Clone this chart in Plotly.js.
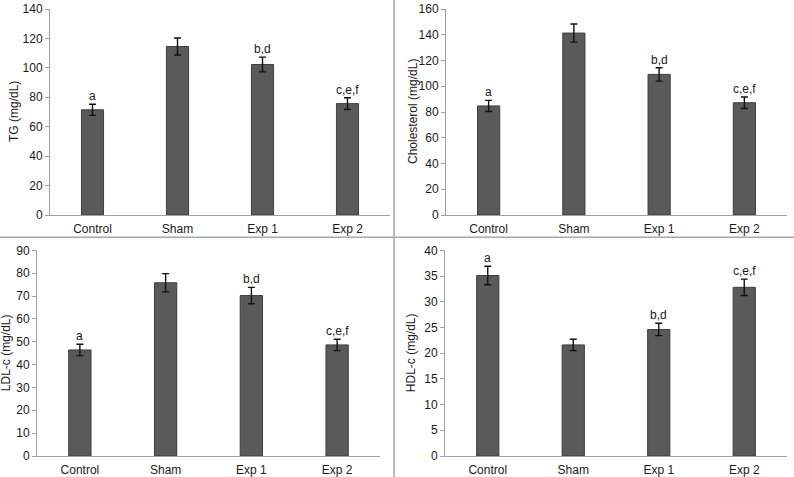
<!DOCTYPE html>
<html>
<head>
<meta charset="utf-8">
<script src="https://cdn.plot.ly/plotly-3.0.1.min.js"></script>
<style>html,body{margin:0;padding:0;background:#fff;}#chart{width:794px;height:477px;}</style>
</head>
<body>
<div id="chart"></div>
<script>
const groups = ["Control", "Sham", "Exp 1", "Exp 2"];

const tgValues = [71.5, 114.5, 102.3, 75.7];
const tgErrors = [3.8, 5.8, 5.0, 4.0];
const tgLetters = ["a", "", "b,d", "c,e,f"];

const cholValues = [84.7, 141.3, 109.2, 87.2];
const cholErrors = [4.3, 7.0, 5.2, 4.5];
const cholLetters = ["a", "", "b,d", "c,e,f"];

const ldlValues = [46.4, 75.8, 70.2, 48.6];
const ldlErrors = [2.5, 4.0, 3.6, 2.5];
const ldlLetters = ["a", "", "b,d", "c,e,f"];

const hdlValues = [35.1, 21.6, 24.6, 32.8];
const hdlErrors = [1.8, 1.1, 1.2, 1.6];
const hdlLetters = ["a", "", "b,d", "c,e,f"];

const panels = [
  {vals: tgValues, errs: tgErrors, letters: tgLetters, title: "TG (mg/dL)", max: 140, dtick: 20, ax: ""},
  {vals: cholValues, errs: cholErrors, letters: cholLetters, title: "Cholesterol (mg/dL)", max: 160, dtick: 20, ax: "2"},
  {vals: ldlValues, errs: ldlErrors, letters: ldlLetters, title: "LDL-c (mg/dL)", max: 90, dtick: 10, ax: "3"},
  {vals: hdlValues, errs: hdlErrors, letters: hdlLetters, title: "HDL-c (mg/dL)", max: 40, dtick: 5, ax: "4"}
];

const W = 794, H = 477;
const geo = [
  {x0: 50, x1: 390, yt: 9, yb: 215, tx: 14},
  {x0: 446, x1: 787, yt: 9, yb: 215, tx: 413},
  {x0: 37, x1: 380, yt: 250.3, yb: 456, tx: 6},
  {x0: 445, x1: 787, yt: 250.3, yb: 456, tx: 411}
];

function mkFont() { return {family: "Liberation Sans, Arial, sans-serif", size: 12, color: "#1a1a1a"}; }
const data = [];
const annotations = [];
const layout = {
  width: W, height: H,
  margin: {l: 0, r: 0, t: 0, b: 0},
  paper_bgcolor: "#fff", plot_bgcolor: "#fff",
  showlegend: false,
  font: mkFont(),
  shapes: [
    {type: "line", xref: "paper", yref: "paper", x0: 394/W, x1: 394/W, y0: 0, y1: 1, line: {color: "#a8a8a8", width: 1.5}},
    {type: "line", xref: "paper", yref: "paper", x0: 0, x1: 1, y0: 1 - 237.3/H, y1: 1 - 237.3/H, line: {color: "#a8a8a8", width: 1.5}}
  ]
};

panels.forEach((p, i) => {
  const g = geo[i];
  const xa = "x" + p.ax, ya = "y" + p.ax;
  data.push({
    type: "bar", x: groups, y: p.vals, xaxis: xa, yaxis: ya,
    width: 0.26,
    marker: {color: "#5a5a5a", line: {color: "#3e3e3e", width: 1}},
    error_y: {type: "data", array: p.errs, visible: true, color: "#111", thickness: 1.4, width: 3.5},
    hoverinfo: "none"
  });
  const xkey = "xaxis" + p.ax, ykey = "yaxis" + p.ax;
  layout[xkey] = {
    domain: [g.x0 / W, g.x1 / W], anchor: ya,
    showline: true, linecolor: "#a0a0a0", linewidth: 1,
    ticks: "", showgrid: false, zeroline: false, ticklabelstandoff: 3,
    tickfont: mkFont(), range: [-0.5, 3.5], fixedrange: true
  };
  layout[ykey] = {
    domain: [1 - g.yb / H, 1 - g.yt / H], anchor: xa,
    range: [0, p.max], dtick: p.dtick, tick0: 0,
    showline: true, linecolor: "#a0a0a0", linewidth: 1,
    ticks: "outside", ticklen: 4, tickcolor: "#a0a0a0",
    showgrid: false, zeroline: false, tickfont: mkFont(), fixedrange: true
  };
  annotations.push({
    xref: "paper", yref: "paper", x: g.tx / W, y: 1 - ((g.yt + g.yb) / 2) / H,
    text: p.title, textangle: -90, showarrow: false, font: mkFont(),
    xanchor: "center", yanchor: "middle"
  });
  p.letters.forEach((t, k) => {
    if (!t) return;
    annotations.push({
      xref: xa, yref: ya, x: groups[k], y: p.vals[k] + p.errs[k],
      text: t, showarrow: false, font: mkFont(), yanchor: "bottom", yshift: -1
    });
  });
});
layout.annotations = annotations;

Plotly.newPlot("chart", data, layout, {staticPlot: true, displayModeBar: false});
</script>
</body>
</html>
